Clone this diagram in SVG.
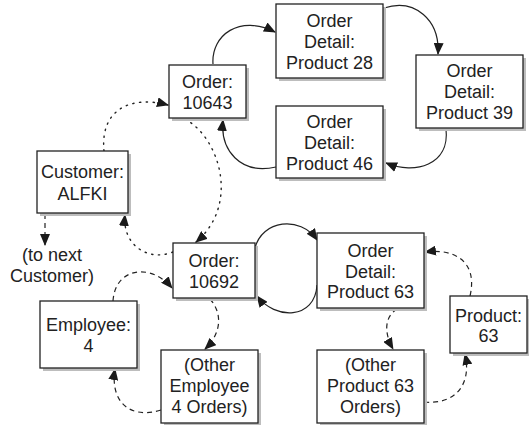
<svg xmlns="http://www.w3.org/2000/svg" width="529" height="425" viewBox="0 0 529 425">
<defs>
<marker id="ah" markerUnits="userSpaceOnUse" markerWidth="12" markerHeight="10" refX="11" refY="5" orient="auto">
<path d="M0,0 L12,5 L0,10 z" fill="#1a1a1a"/>
</marker>
<style>
.box{fill:#fff;stroke:#222;stroke-width:1.3}
.sh{fill:#bdbdbd}
text{font-family:"Liberation Sans",Arial,sans-serif;font-size:18px;fill:#222;text-anchor:middle}
.c{fill:none;stroke:#222;stroke-width:1.2;marker-end:url(#ah)}
.dash{stroke-dasharray:5 4}
.dot{stroke-dasharray:1.3 5.5;stroke-linecap:round;stroke-width:1.4}
</style>
</defs>
<rect width="529" height="425" fill="#fff"/>
<g id="connectors">
<path class="c" d="M213,64 C211,35 240,14 275,32"/>
<path class="c" d="M384,8 C415,-2 440,20 438,54"/>
<path class="c" d="M446,129 C450,165 415,175 386,163"/>
<path class="c" d="M276,167 C240,175 220,150 223,120"/>
<path class="c" d="M255,248 C262,220 300,215 317,240"/>
<path class="c" d="M317,285 C315,320 275,320 257,296"/>
<path class="c dot" d="M185,119 C220,138 240,205 196,242"/>
<path class="c dot" d="M104,151 C100,110 130,95 168,105"/>
<path class="c dot" d="M173,252 C148,262 122,245 125,215"/>
<path class="c dash" d="M45,214 L45,245"/>
<path class="c dash" d="M113,301 C115,268 150,262 172,288"/>
<path class="c dash" d="M210,299 C224,315 220,335 205,349"/>
<path class="c dash" d="M161,410 C128,420 110,400 115,369"/>
<path class="c dash" d="M397,309 C383,318 385,335 393,349"/>
<path class="c dash" d="M424,402 C455,405 472,385 465,354"/>
<path class="c dash" d="M470,296 C478,262 455,248 425,252"/>
</g>
<g id="order10643">
<rect class="sh" x="172" y="68" width="77" height="53"/>
<rect class="box" x="169" y="65" width="77" height="53"/>
<text x="207.5" y="88">Order:</text>
<text x="207.5" y="109">10643</text>
</g>
<g id="od28">
<rect class="sh" x="279" y="7" width="107" height="74"/>
<rect class="box" x="276" y="4" width="107" height="74"/>
<text x="329.5" y="27">Order</text>
<text x="329.5" y="48">Detail:</text>
<text x="329.5" y="69">Product 28</text>
</g>
<g id="od39">
<rect class="sh" x="419" y="58" width="107" height="73"/>
<rect class="box" x="416" y="55" width="107" height="73"/>
<text x="469.5" y="77">Order</text>
<text x="469.5" y="98">Detail:</text>
<text x="469.5" y="119">Product 39</text>
</g>
<g id="od46">
<rect class="sh" x="279" y="109" width="107" height="72"/>
<rect class="box" x="276" y="106" width="107" height="72"/>
<text x="329.5" y="128">Order</text>
<text x="329.5" y="149">Detail:</text>
<text x="329.5" y="170">Product 46</text>
</g>
<g id="customer">
<rect class="sh" x="40" y="154" width="91" height="62"/>
<rect class="box" x="37" y="151" width="91" height="62"/>
<text x="82.5" y="178">Customer:</text>
<text x="82.5" y="200">ALFKI</text>
</g>
<g id="nextcustomer">
<text x="52" y="261">(to next</text>
<text x="52" y="282">Customer)</text>
</g>
<g id="order10692">
<rect class="sh" x="176" y="246" width="82" height="55"/>
<rect class="box" x="173" y="243" width="82" height="55"/>
<text x="214" y="267">Order:</text>
<text x="214" y="288">10692</text>
</g>
<g id="od63">
<rect class="sh" x="320" y="236" width="107" height="75"/>
<rect class="box" x="317" y="233" width="107" height="75"/>
<text x="370.5" y="257">Order</text>
<text x="370.5" y="278">Detail:</text>
<text x="370.5" y="298">Product 63</text>
</g>
<g id="employee">
<rect class="sh" x="43" y="304" width="97" height="67"/>
<rect class="box" x="40" y="301" width="97" height="67"/>
<text x="88.5" y="331">Employee:</text>
<text x="88.5" y="352">4</text>
</g>
<g id="otheremployee">
<rect class="sh" x="164" y="353" width="97" height="73"/>
<rect class="box" x="161" y="350" width="97" height="73"/>
<text x="209.5" y="371">(Other</text>
<text x="209.5" y="392">Employee</text>
<text x="209.5" y="413">4 Orders)</text>
</g>
<g id="product63">
<rect class="sh" x="453" y="299" width="77" height="57"/>
<rect class="box" x="450" y="296" width="77" height="57"/>
<text x="488.5" y="322">Product:</text>
<text x="488.5" y="342">63</text>
</g>
<g id="otherproduct">
<rect class="sh" x="320" y="353" width="107" height="73"/>
<rect class="box" x="317" y="350" width="107" height="73"/>
<text x="370.5" y="371">(Other</text>
<text x="370.5" y="392">Product 63</text>
<text x="370.5" y="413">Orders)</text>
</g>
</svg>
